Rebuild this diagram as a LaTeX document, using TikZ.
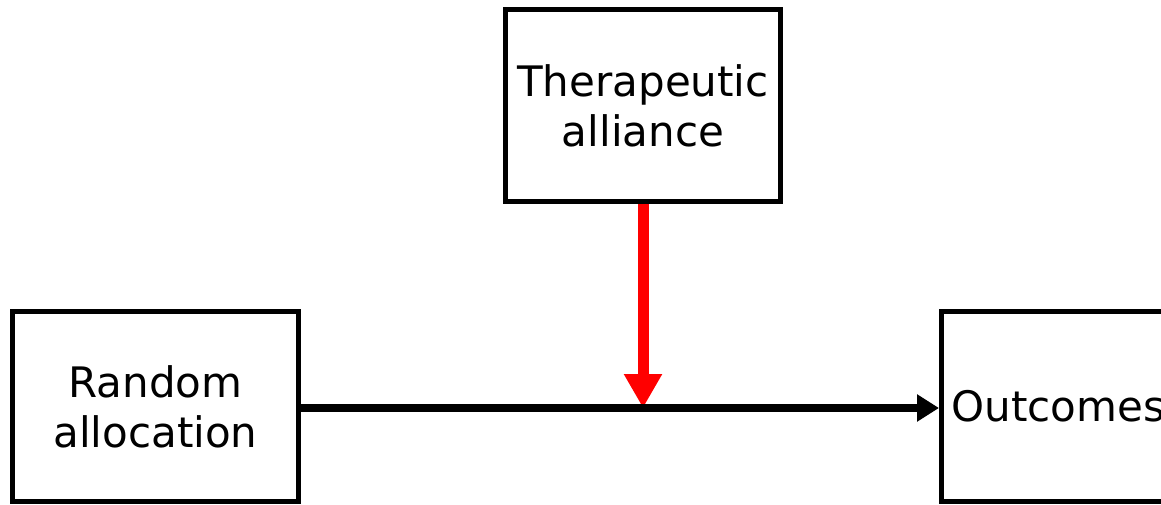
\documentclass[tikz,border=0pt]{standalone}
\usepackage{fontspec}
\setmainfont{DejaVu Sans}
\usetikzlibrary{arrows.meta}
\tikzset{
  box/.style={draw=black, line width=5pt, fill=white, inner sep=0pt,
    font=\fontsize{42}{50}\selectfont, align=center},
  causal/.style={draw=black, line width=7.5pt,
    -{Triangle[length=22pt,width=26pt]}},
  moderator/.style={draw=red, line width=11pt,
    -{Triangle[length=34pt,width=36pt]}}
}
\begin{document}
\begin{tikzpicture}[x=1pt,y=-1pt]
  \useasboundingbox (0,0) rectangle (1161,505);
  \clip (0,0) rectangle (1161,505);
  % the three variables
  \node[box, minimum width=275pt, minimum height=192pt] (ta) at (643,105.5)
    {Therapeutic\\alliance};
  \node[box, minimum width=286pt, minimum height=190pt] (ra) at (155.5,406.5)
    {Random\\allocation};
  \node[box, anchor=west, minimum height=190pt, text width=266pt,
    inner xsep=10pt, align=left] (oc) at (939,406.5) {Outcomes};
  % moderation arrow onto the main path
  \coordinate (m) at (ta.south |- 0,408);
  \draw[moderator] (ta.south) -- (m);
  % main causal path
  \draw[causal] (ra.east |- 0,408) -- (oc.west |- 0,408);
\end{tikzpicture}
\end{document}
